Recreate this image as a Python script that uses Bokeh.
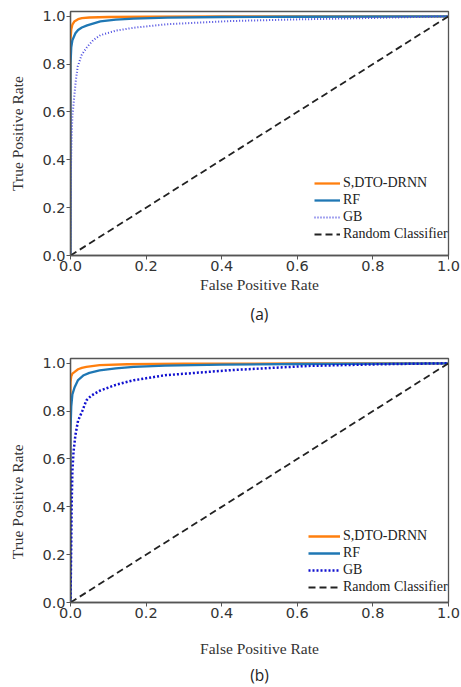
from bokeh.plotting import figure
from bokeh.layouts import column
from bokeh.models import Range1d, FixedTicker, Title, Legend, LegendItem
from bokeh.embed import file_html
from bokeh.resources import INLINE

# ---------------- data ----------------
tick_vals = [0.0, 0.2, 0.4, 0.6, 0.8, 1.0]
tick_labels = ["0.0", "0.2", "0.4", "0.6", "0.8", "1.0"]
series_names = ["S,DTO-DRNN", "RF", "GB", "Random Classifier"]

# panel (a)
dto_fpr_a = [0, 0, 0.002, 0.005, 0.01, 0.02, 0.03, 0.05, 0.1, 0.2, 0.4, 0.7, 1.0]
dto_tpr_a = [0, 0.90, 0.945, 0.965, 0.978, 0.988, 0.992, 0.995, 0.997, 0.998, 0.999, 1.0, 1.0]
rf_fpr_a = [0, 0, 0.002, 0.005, 0.013, 0.02, 0.03, 0.044, 0.079, 0.12, 0.167, 0.256, 0.4, 0.6, 1.0]
rf_tpr_a = [0, 0.80, 0.87, 0.90, 0.929, 0.943, 0.953, 0.962, 0.979, 0.986, 0.99, 0.994, 0.997, 0.998, 1.0]
gb_fpr_a = [0, 0.001, 0.003, 0.005, 0.009, 0.014, 0.019, 0.03, 0.044, 0.06, 0.079, 0.12, 0.167, 0.256, 0.423, 0.6, 0.8, 1.0]
gb_tpr_a = [0, 0.35, 0.50, 0.58, 0.65, 0.73, 0.79, 0.84, 0.872, 0.90, 0.921, 0.94, 0.952, 0.967, 0.98, 0.987, 0.993, 1.0]

# panel (b)
dto_fpr_b = [0, 0, 0.002, 0.005, 0.011, 0.02, 0.03, 0.042, 0.077, 0.15, 0.3, 0.6, 1.0]
dto_tpr_b = [0, 0.92, 0.945, 0.957, 0.964, 0.975, 0.981, 0.985, 0.992, 0.996, 0.998, 0.999, 1.0]
rf_fpr_b = [0, 0, 0.002, 0.005, 0.011, 0.02, 0.035, 0.05, 0.077, 0.12, 0.167, 0.25, 0.4, 0.6, 1.0]
rf_tpr_b = [0, 0.72, 0.82, 0.87, 0.90, 0.93, 0.95, 0.96, 0.97, 0.979, 0.985, 0.99, 0.994, 0.997, 1.0]
gb_fpr_b = [0, 0.002, 0.003, 0.005, 0.008, 0.013, 0.02, 0.031, 0.042, 0.055, 0.077, 0.12, 0.167, 0.25, 0.42, 0.63, 0.82, 1.0]
gb_tpr_b = [0, 0.25, 0.40, 0.55, 0.63, 0.70, 0.76, 0.80, 0.845, 0.865, 0.885, 0.91, 0.929, 0.95, 0.971, 0.989, 0.996, 1.0]

rand_fpr = [0, 1]
rand_tpr = [0, 1]

SERIF = "Liberation Serif"
SANS = "DejaVu Sans"


def make_panel(caption, curves, gb_color, gb_width, gb_dash, height, top, bottom,
               xlabel_standoff, caption_standoff, legend_glyph_w, legend_loc,
               ylabel_pad=0):
    p = figure(width=461, height=height, output_backend="svg", toolbar_location=None,
               x_range=Range1d(0, 1), y_range=Range1d(0, 1.02),
               min_border_left=70, min_border_right=13, min_border_top=top,
               min_border_bottom=bottom)
    p.xgrid.visible = False
    p.ygrid.visible = False
    p.outline_line_color = "#555555"
    p.outline_line_width = 1.3
    p.background_fill_color = "white"
    p.border_fill_color = "white"

    (dfx, dfy), (rfx, rfy), (gfx, gfy) = curves
    r1 = p.line(dfx, dfy, line_color="#ff7f0e", line_width=2.3)
    r2 = p.line(rfx, rfy, line_color="#1f77b4", line_width=2.3)
    r3 = p.line(gfx, gfy, line_color=gb_color, line_width=gb_width, line_dash=gb_dash)
    r4 = p.line(rand_fpr, rand_tpr, line_color="#222222", line_width=1.8, line_dash="7 4")

    for ax in (p.xaxis[0], p.yaxis[0]):
        ax.ticker = FixedTicker(ticks=tick_vals)
        ax.major_label_overrides = {v: s for v, s in zip(tick_vals, tick_labels)}
        ax.minor_tick_line_color = None
        ax.major_tick_in = 0
        ax.major_tick_out = 4
        ax.major_tick_line_color = "#555555"
        ax.axis_line_color = "#555555"
        ax.axis_line_width = 1.3
        ax.major_label_text_font = SANS
        ax.major_label_text_font_size = "14.5px"
        ax.major_label_text_color = "#333333"
        ax.axis_label_text_font = SERIF
        ax.axis_label_text_font_size = "15.5px"
        ax.axis_label_text_font_style = "normal"
        ax.axis_label_text_color = "#333333"
        ax.major_label_standoff = 1
    p.xaxis.axis_label = "False Positive Rate"
    p.xaxis.axis_label_standoff = xlabel_standoff
    # trailing no-break spaces shift the rotated label toward the bottom
    p.yaxis.axis_label = "True Positive Rate" + "\u00a0" * ylabel_pad
    p.yaxis.axis_label_standoff = 13

    legend = Legend(items=[LegendItem(label=n, renderers=[r]) for n, r in
                           zip(series_names, [r1, r2, r3, r4])],
                    location=legend_loc)
    legend.label_text_font = SERIF
    legend.label_text_font_size = "14px"
    legend.label_text_color = "#222222"
    legend.glyph_width = legend_glyph_w
    legend.glyph_height = 12
    legend.label_height = 12
    legend.label_standoff = 3
    legend.spacing = 1
    legend.padding = 0
    legend.margin = 0
    legend.border_line_alpha = 0
    legend.background_fill_alpha = 0
    p.add_layout(legend)

    p.add_layout(Title(text=caption, align="center", text_font="Open Sans",
                       text_font_size="15.5px", text_font_style="normal",
                       text_color="#222222", standoff=caption_standoff), "below")
    return p


pa = make_panel("(a)", [(dto_fpr_a, dto_tpr_a), (rf_fpr_a, rf_tpr_a), (gb_fpr_a, gb_tpr_a)],
                "#4a4ae0", 2.0, "1 2", 330, 11, 74, 2, 11, 26, (244, 13))
pb = make_panel("(b)", [(dto_fpr_b, dto_tpr_b), (rf_fpr_b, rf_tpr_b), (gb_fpr_b, gb_tpr_b)],
                "#1010d0", 2.5, "2 2", 357, 28, 83, 19, 4, 32, (238, 7),
                ylabel_pad=11)

layout = column(pa, pb, spacing=0)
open("out.html", "w").write(file_html(layout, INLINE))
